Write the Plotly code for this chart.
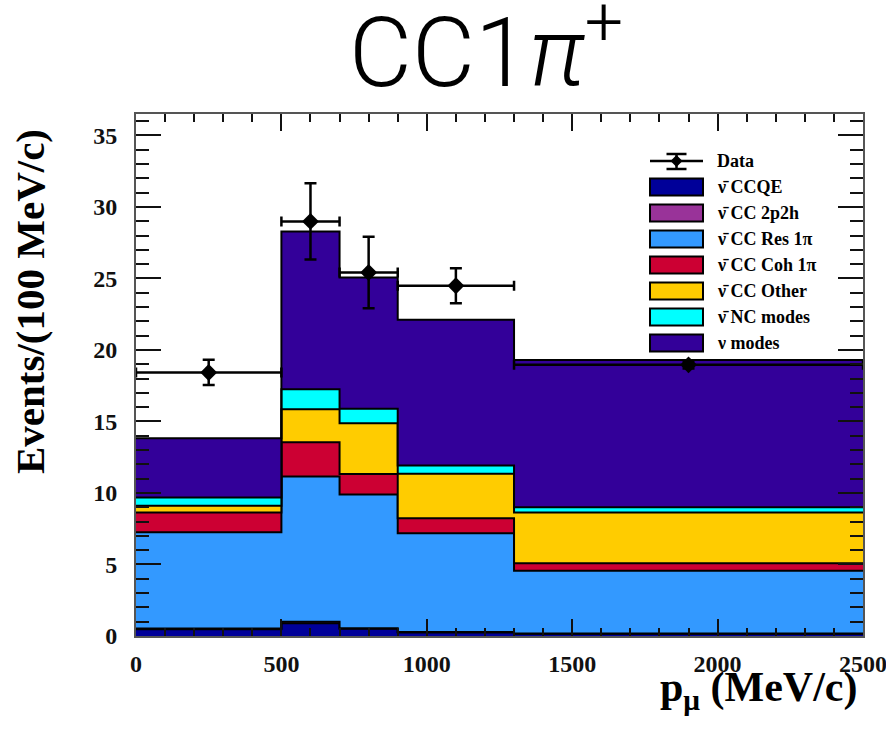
import plotly.graph_objects as go
import numpy as np

# Binning in muon momentum (MeV/c)
bin_edges = [0, 500, 700, 900, 1300, 2500]

# Stacked MC components, events / (100 MeV/c), bottom to top
ccqe = [0.47, 0.90, 0.50, 0.25, 0.15]
cc2p2h = [0.05, 0.10, 0.05, 0.03, 0.02]
res1pi = [6.74, 10.15, 9.34, 6.91, 4.40]
coh1pi = [1.37, 2.40, 1.43, 1.05, 0.52]
ccother = [0.47, 2.31, 3.56, 3.10, 3.54]
ncmodes = [0.58, 1.40, 1.01, 0.58, 0.38]
numodes = [4.15, 11.03, 9.18, 10.19, 10.29]

# Data points with errors
data_x = [250, 600, 800, 1100, 1900]
data_xerr = [250, 100, 100, 200, 600]
data_y = [18.43, 28.99, 25.42, 24.49, 18.96]
data_yerr = [0.88, 2.66, 2.50, 1.23, 0.25]

component_names = ["ν̄ CCQE", "ν̄ CC 2p2h", "ν̄ CC Res 1π", "ν̄ CC Coh 1π",
                   "ν̄ CC Other", "ν̄ NC modes", "ν modes"]
component_colors = ["#000099", "#993399", "#3399ff", "#cc0033",
                    "#ffcc00", "#00ffff", "#330099"]
components = [ccqe, cc2p2h, res1pi, coh1pi, ccother, ncmodes, numodes]

x_ticks = [0, 500, 1000, 1500, 2000, 2500]
y_ticks = [0, 5, 10, 15, 20, 25, 30, 35]

W, H = 886, 732
L, R, T, B = 136, 23, 114, 96
PW, PH = W - L - R, H - T - B


def px_x(p):
    return (p - L) / PW


def px_y(p):
    return (H - B - p) / PH


SERIF = "Liberation Serif, Times New Roman, serif"

fig = go.Figure()

# Stacked step histograms
cum = np.zeros(len(bin_edges) - 1)
for i, (vals, col) in enumerate(zip(components, component_colors)):
    cum = cum + np.array(vals)
    ys = list(cum) + [cum[-1]]
    fig.add_trace(go.Scatter(
        x=bin_edges, y=ys, mode="lines", line_shape="hv",
        line=dict(color="black", width=2),
        fill="tozeroy" if i == 0 else "tonexty",
        fillcolor=col, showlegend=False, hoverinfo="skip"))

# Data
fig.add_trace(go.Scatter(
    x=data_x, y=data_y, mode="markers",
    marker=dict(symbol="diamond", size=13, color="black"),
    error_x=dict(type="data", array=data_xerr, color="black", thickness=2.5, width=5),
    error_y=dict(type="data", array=data_yerr, color="black", thickness=2.5, width=6),
    showlegend=False))

# Hand-built legend
shapes = []
annotations = []
leg_x0, leg_x1 = 650, 703
row0 = 161
step = 26.0
# Data row: horizontal line + error bar + marker
cx = (leg_x0 + leg_x1) / 2
shapes.append(dict(type="line", xref="paper", yref="paper",
                   x0=px_x(leg_x0), x1=px_x(leg_x1), y0=px_y(row0), y1=px_y(row0),
                   line=dict(color="black", width=2.5)))
shapes.append(dict(type="line", xref="paper", yref="paper",
                   x0=px_x(cx), x1=px_x(cx), y0=px_y(row0 - 7), y1=px_y(row0 + 8),
                   line=dict(color="black", width=2.5)))
for yy in (row0 - 7, row0 + 8):
    shapes.append(dict(type="line", xref="paper", yref="paper",
                       x0=px_x(cx - 10), x1=px_x(cx + 10), y0=px_y(yy), y1=px_y(yy),
                       line=dict(color="black", width=2.5)))
shapes.append(dict(type="path", xref="paper", yref="paper",
                   path="M {a},{b} L {c},{d} L {a},{e} L {f},{d} Z".format(
                       a=px_x(cx), b=px_y(row0 - 6), c=px_x(cx + 6), d=px_y(row0),
                       e=px_y(row0 + 6), f=px_x(cx - 6)),
                   fillcolor="black", line=dict(width=0)))
annotations.append(dict(xref="paper", yref="paper", x=px_x(715), y=px_y(row0),
                        xanchor="left", yanchor="middle", text="Data", showarrow=False,
                        font=dict(family=SERIF, size=18, color="black", weight="bold")))
for k, (name, col) in enumerate(zip(component_names, component_colors)):
    yc = row0 + step * (k + 1)
    shapes.append(dict(type="rect", xref="paper", yref="paper",
                       x0=px_x(leg_x0), x1=px_x(leg_x1),
                       y0=px_y(yc - 8.5), y1=px_y(yc + 8.5),
                       fillcolor=col, line=dict(color="black", width=2)))
    annotations.append(dict(xref="paper", yref="paper", x=px_x(715), y=px_y(yc),
                            xanchor="left", yanchor="middle", text=name, showarrow=False,
                            font=dict(family=SERIF, size=18, color="black", weight="bold")))

# Axis titles
annotations.append(dict(xref="paper", yref="paper", x=1, xshift=-4, y=px_y(690),
                        xanchor="right", yanchor="middle",
                        text="p<sub>μ</sub> (MeV/c)", showarrow=False,
                        font=dict(family=SERIF, size=42, color="black", weight="bold")))
annotations.append(dict(xref="paper", yref="paper", x=px_x(30), y=px_y(302),
                        xanchor="center", yanchor="middle", textangle=-90,
                        text="Events/(100 MeV/c)", showarrow=False,
                        font=dict(family=SERIF, size=41, color="black", weight="bold")))

axis_common = dict(
    showgrid=False, zeroline=False, showline=True, linecolor="#555", linewidth=2,
    mirror="ticks", ticks="inside", tickcolor="#111", tickwidth=2,
    tickfont=dict(family=SERIF, size=24, color="#111", weight="bold"),
    ticklabeloverflow="allow",
)

fig.update_layout(
    width=W, height=H, autosize=False,
    margin=dict(l=L, r=R, t=T, b=B, autoexpand=False),
    paper_bgcolor="white", plot_bgcolor="white",
    title=dict(text="CC1<i>π</i><sup>+</sup>",
               x=486 / W, xanchor="center",
               y=1 - 52 / H, yanchor="middle", xref="container", yref="container",
               font=dict(family="Roboto, Lato, sans-serif", size=97, color="black", weight=300)),
    xaxis=dict(range=[0, 2500], tickvals=x_ticks, ticklen=17, ticklabelstandoff=5,
               minor=dict(dtick=100, ticks="inside", ticklen=8, tickcolor="#111", tickwidth=1.5),
               **axis_common),
    yaxis=dict(range=[0, 36.5], tickvals=y_ticks, ticklen=25, ticklabelstandoff=12,
               minor=dict(dtick=1, ticks="inside", ticklen=13, tickcolor="#111", tickwidth=1.5),
               **axis_common),
    shapes=shapes, annotations=annotations, showlegend=False,
)

fig.write_html("out.html")
